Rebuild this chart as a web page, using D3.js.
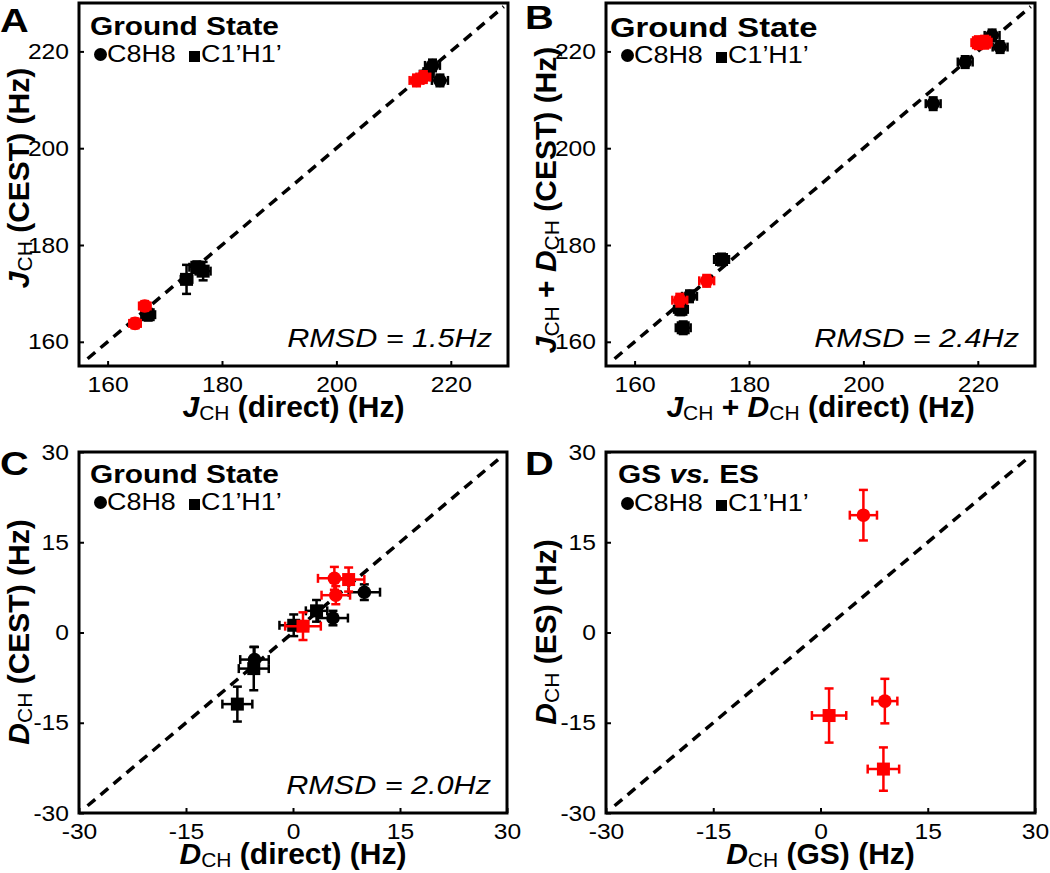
<!DOCTYPE html>
<html>
<head>
<meta charset="utf-8">
<script src="https://cdn.jsdelivr.net/npm/d3@7"></script>
<style>
body { margin: 0; background: #fff; }
svg { display: block; font-family: "Liberation Sans", Arial, Helvetica, sans-serif; }
text { white-space: pre; }
</style>
</head>
<body>
<svg id="fig" width="1050" height="873"></svg>
<script>
// axis values
const jDomain = [155, 230];
const dDomain = [-30, 30];
const ticksJ = [160, 180, 200, 220];
const ticksD = [-30, -15, 0, 15, 30];

// rows: [x, y, xErr, yErr, site]   site: C8H8 = circle, C1H1 = square
// A: J_CH direct vs CEST
const aBlack = [
    [216.8, 217.1, 1.3, 1.2, "C8H8"],
    [215.8, 215.3, 1.2, 1.2, "C8H8"],
    [218.1, 214.0, 1.4, 1.2, "C8H8"],
    [167.1, 165.6, 1.2, 1.2, "C1H1"],
    [173.8, 172.9, 1.0, 3.0, "C1H1"],
    [175.6, 175.4, 1.3, 1.2, "C1H1"],
    [176.7, 174.6, 1.3, 1.9, "C1H1"]
];
const aRed = [
    [214.0, 214.0, 1.2, 1.2, "C8H8"],
    [215.2, 214.7, 1.2, 1.2, "C8H8"],
    [166.5, 167.4, 1.0, 1.0, "C8H8"],
    [164.8, 163.8, 1.0, 1.0, "C8H8"]
];

// B: J_CH + D_CH direct vs CEST
const bBlack = [
    [222.5, 223.3, 1.3, 1.2, "C8H8"],
    [223.9, 220.9, 1.3, 1.2, "C8H8"],
    [217.8, 217.8, 1.3, 1.2, "C8H8"],
    [212.2, 209.2, 1.3, 1.3, "C8H8"],
    [175.2, 177.0, 1.3, 1.2, "C1H1"],
    [169.6, 169.4, 1.3, 1.2, "C8H8"],
    [168.1, 166.7, 1.2, 1.2, "C1H1"],
    [168.5, 162.9, 1.3, 1.3, "C1H1"]
];
const bRed = [
    [220.1, 221.8, 1.2, 1.3, "C1H1"],
    [221.2, 221.9, 1.2, 1.3, "C1H1"],
    [172.6, 172.6, 1.3, 1.2, "C8H8"],
    [167.9, 168.6, 1.3, 1.3, "C8H8"]
];

// C: D_CH direct vs CEST
const cBlack = [
    [10.0, 6.7, 2.2, 1.3, "C8H8"],
    [5.6, 2.4, 2.1, 1.2, "C8H8"],
    [-5.4, -4.5, 2.0, 2.1, "C8H8"],
    [3.3, 3.6, 1.5, 1.8, "C1H1"],
    [0.1, 1.2, 2.0, 1.8, "C1H1"],
    [-5.5, -6.0, 2.1, 3.6, "C1H1"],
    [-7.8, -11.9, 2.1, 2.9, "C1H1"]
];
const cRed = [
    [5.8, 9.0, 2.3, 1.9, "C8H8"],
    [6.0, 6.2, 2.0, 1.5, "C8H8"],
    [7.8, 8.8, 2.2, 2.0, "C1H1"],
    [1.4, 1.05, 2.5, 2.3, "C1H1"]
];

// D: D_CH GS vs ES
const dBlack = [];
const dRed = [
    [6.0, 19.5, 1.9, 4.2, "C8H8"],
    [9.0, -11.4, 1.75, 3.7, "C8H8"],
    [1.2, -13.8, 2.4, 4.5, "C1H1"],
    [8.8, -22.7, 2.2, 3.6, "C1H1"]
];

const rmsdLabels = ["RMSD = 1.5Hz", "RMSD = 2.4Hz", "RMSD = 2.0Hz", null];

const svg = d3.select("#fig");
const fontFam = '"Liberation Sans", Arial, Helvetica, sans-serif';
const red = "#ff0000";
const stretch = 1.17;
const tickStretch = 1.12;

// parts: [text, flags]  i = italic, s = subscript
function addParts(text, parts, size) {
    let wasSub = false;
    parts.forEach(function(p) {
        const ts = text.append("tspan").text(p[0]);
        const sub = p[1].includes("s");
        if (p[1].includes("i")) ts.attr("font-style", "italic");
        if (sub) {
            ts.attr("font-size", size * 0.7).attr("font-weight", "normal").attr("dy", 3);
        } else if (wasSub) {
            ts.attr("dy", -3);
        }
        wasSub = sub;
    });
}

function drawPoints(g, x, y, rows, colour) {
    const cap = 4.5;
    const pts = g.append("g").selectAll("g")
        .data(rows)
        .enter().append("g")
        .attr("stroke", colour)
        .attr("fill", colour)
        .attr("stroke-width", 2.5);

    pts.append("line")
        .attr("x1", d => x(d[0] - d[2])).attr("x2", d => x(d[0] + d[2]))
        .attr("y1", d => y(d[1])).attr("y2", d => y(d[1]));
    pts.append("line")
        .attr("x1", d => x(d[0])).attr("x2", d => x(d[0]))
        .attr("y1", d => y(d[1] - d[3])).attr("y2", d => y(d[1] + d[3]));
    [-1, 1].forEach(function(s) {
        pts.append("line")
            .attr("x1", d => x(d[0] + s * d[2])).attr("x2", d => x(d[0] + s * d[2]))
            .attr("y1", d => y(d[1]) - cap).attr("y2", d => y(d[1]) + cap);
        pts.append("line")
            .attr("x1", d => x(d[0]) - cap).attr("x2", d => x(d[0]) + cap)
            .attr("y1", d => y(d[1] + s * d[3])).attr("y2", d => y(d[1] + s * d[3]));
    });

    pts.filter(d => d[4] === "C8H8").append("circle")
        .attr("stroke", "none")
        .attr("cx", d => x(d[0])).attr("cy", d => y(d[1]))
        .attr("r", 6.8);
    pts.filter(d => d[4] === "C1H1").append("rect")
        .attr("stroke", "none")
        .attr("x", d => x(d[0]) - 6.5).attr("y", d => y(d[1]) - 6.5)
        .attr("width", 13).attr("height", 13);
}

function styleAxis(sel, left) {
    sel.attr("font-family", fontFam).attr("font-size", 22);
    sel.select(".domain").remove();
    sel.selectAll(".tick line").attr("stroke", "#000").attr("stroke-width", 2);
    const txt = sel.selectAll(".tick text").attr("fill", "#000")
        .attr("transform", "scale(" + tickStretch + ",1)");
    if (left) txt.attr("x", -10 / tickStretch);
}

function drawPanel(p) {
    const x = d3.scaleLinear().domain(p.domain).range([p.left, p.right]);
    const y = d3.scaleLinear().domain(p.domain).range([p.bottom, p.top]);
    const g = svg.append("g");
    const fmt = d => String(d);

    g.append("g")
        .attr("transform", "translate(0," + p.bottom + ")")
        .call(d3.axisBottom(x).tickValues(p.ticks).tickFormat(fmt).tickSize(-5).tickPadding(10))
        .call(styleAxis, false);
    g.append("g")
        .attr("transform", "translate(" + p.left + ",0)")
        .call(d3.axisLeft(y).tickValues(p.ticks).tickFormat(fmt).tickSize(-5).tickPadding(10))
        .call(styleAxis, true);

    // y = x reference line
    const span = p.domain[1] - p.domain[0];
    const lo = p.domain[0] + 0.02 * span, hi = p.domain[1] - 0.01 * span;
    g.append("line")
        .attr("x1", x(lo)).attr("y1", y(lo))
        .attr("x2", x(hi)).attr("y2", y(hi))
        .attr("stroke", "#000")
        .attr("stroke-width", 3.5)
        .attr("stroke-dasharray", "10,7");

    drawPoints(g, x, y, p.black, "#000");
    drawPoints(g, x, y, p.red, red);

    // frame
    g.append("rect")
        .attr("x", p.left).attr("y", p.top)
        .attr("width", p.right - p.left).attr("height", p.bottom - p.top)
        .attr("fill", "none").attr("stroke", "#000").attr("stroke-width", 3);

    // panel letter
    g.append("text")
        .attr("transform", "translate(" + p.letterX + "," + p.letterY + ") scale(" + stretch + ",1)")
        .attr("font-size", 34).attr("font-weight", "bold")
        .text(p.letter);

    // title
    const t = g.append("text")
        .attr("transform", "translate(" + p.titleX + "," + p.titleY + ") scale(" + stretch + ",1)")
        .attr("font-size", p.titleSize).attr("font-weight", "bold");
    addParts(t, p.title, p.titleSize);

    // legend row
    const ly = p.legendY;
    g.append("circle").attr("cx", p.left + 21.5).attr("cy", ly - 7.5).attr("r", 6.5);
    g.append("text")
        .attr("transform", "translate(" + (p.left + 28) + "," + ly + ") scale(" + stretch + ",1)")
        .attr("font-size", 23).text("C8H8");
    g.append("rect").attr("x", p.left + 110).attr("y", ly - 11).attr("width", 11).attr("height", 11);
    g.append("text")
        .attr("transform", "translate(" + (p.left + 122) + "," + ly + ") scale(" + stretch + ",1)")
        .attr("font-size", 23).text("C1\u2019H1\u2019");

    if (p.rmsd) {
        g.append("text")
            .attr("transform", "translate(" + (p.right - 16) + "," + (p.bottom - 19) + ") scale(1.2,1)")
            .attr("text-anchor", "end")
            .attr("font-size", 25.5).attr("font-style", "italic")
            .text(p.rmsd);
    }

    // axis titles
    const xt = g.append("text")
        .attr("x", (p.left + p.right) / 2).attr("y", p.bottom + 51)
        .attr("text-anchor", "middle")
        .attr("font-size", 30).attr("font-weight", "bold");
    addParts(xt, p.xTitle, 30);

    const yt = g.append("text")
        .attr("transform", "translate(" + (p.left - 50) + "," + p.yTitleCenter + ") rotate(-90)")
        .attr("text-anchor", "middle")
        .attr("font-size", 30).attr("font-weight", "bold");
    addParts(yt, p.yTitle, 30);
}

const groundTitle = [["Ground State", ""]];

drawPanel({
    letter: "A", letterX: 0, letterY: 32,
    left: 79, right: 508, top: 3, bottom: 366,
    domain: jDomain, ticks: ticksJ,
    title: groundTitle, titleX: 90, titleY: 35, titleSize: 25.5, legendY: 62,
    xTitle: [["J", "i"], ["CH", "s"], [" (direct) (Hz)", ""]],
    yTitle: [["J", "i"], ["CH", "s"], [" (CEST) (Hz)", ""]],
    yTitleCenter: 178,
    rmsd: rmsdLabels[0], black: aBlack, red: aRed
});

drawPanel({
    letter: "B", letterX: 525, letterY: 29,
    left: 606, right: 1035, top: 3, bottom: 366,
    domain: jDomain, ticks: ticksJ,
    title: groundTitle, titleX: 610, titleY: 37, titleSize: 28, legendY: 63,
    xTitle: [["J", "i"], ["CH", "s"], [" + ", ""], ["D", "i"], ["CH", "s"], [" (direct) (Hz)", ""]],
    yTitle: [["J", "i"], ["CH", "s"], [" + ", ""], ["D", "i"], ["CH", "s"], [" (CEST) (Hz)", ""]],
    yTitleCenter: 200,
    rmsd: rmsdLabels[1], black: bBlack, red: bRed
});

drawPanel({
    letter: "C", letterX: 0, letterY: 475,
    left: 79, right: 507, top: 452, bottom: 813,
    domain: dDomain, ticks: ticksD,
    title: groundTitle, titleX: 90, titleY: 483, titleSize: 25.5, legendY: 510,
    xTitle: [["D", "i"], ["CH", "s"], [" (direct) (Hz)", ""]],
    yTitle: [["D", "i"], ["CH", "s"], [" (CEST) (Hz)", ""]],
    yTitleCenter: 632,
    rmsd: rmsdLabels[2], black: cBlack, red: cRed
});

drawPanel({
    letter: "D", letterX: 525, letterY: 475,
    left: 606, right: 1035, top: 452, bottom: 813,
    domain: dDomain, ticks: ticksD,
    title: [["GS ", ""], ["vs.", "i"], [" ES", ""]], titleX: 618, titleY: 483, titleSize: 25.5, legendY: 511,
    xTitle: [["D", "i"], ["CH", "s"], [" (GS) (Hz)", ""]],
    yTitle: [["D", "i"], ["CH", "s"], [" (ES) (Hz)", ""]],
    yTitleCenter: 632,
    rmsd: rmsdLabels[3], black: dBlack, red: dRed
});
</script>
</body>
</html>
